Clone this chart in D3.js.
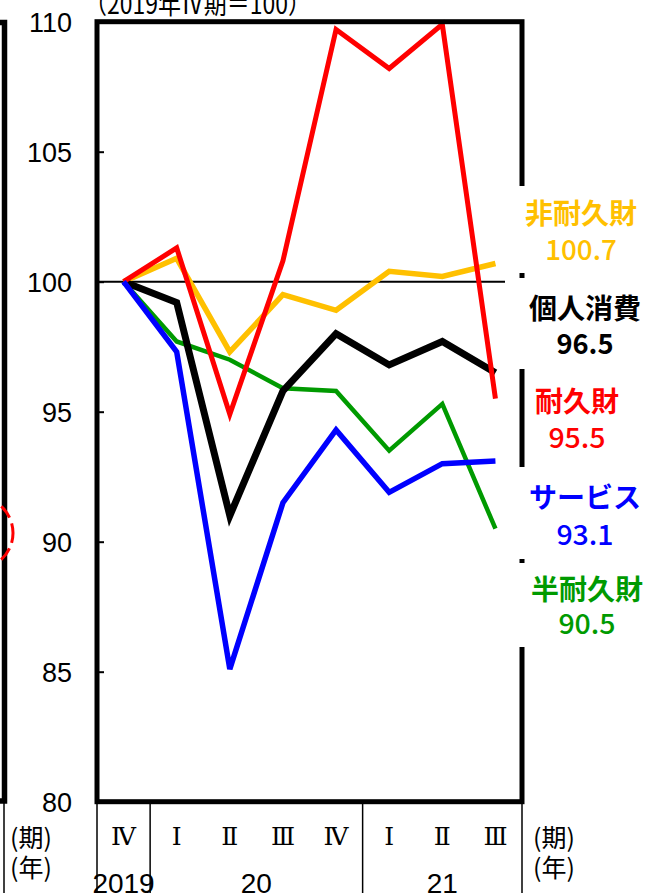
<!DOCTYPE html>
<html><head><meta charset="utf-8">
<script src="https://cdn.jsdelivr.net/npm/d3@7"></script>
<style>html,body{margin:0;padding:0;background:#fff;overflow:hidden}</style>
</head><body><svg id="c" width="646" height="893"></svg>
<script>
// ---- data ----
const periods = ["2019Q4","2020Q1","2020Q2","2020Q3","2020Q4","2021Q1","2021Q2","2021Q3"];
const quarterLabels = ["Ⅳ","Ⅰ","Ⅱ","Ⅲ","Ⅳ","Ⅰ","Ⅱ","Ⅲ"];
const yearLabels = ["2019","20","21"];
const yearStart = ["2019Q4","2020Q1","2021Q1"];
const yearEnd = ["2019Q4","2020Q4","2021Q3"];
const yTicks = [80,85,90,95,100,105,110];
const titleText = "（2019年Ⅳ期＝100）";

const consumption = [100, 99.2, 91.0, 95.8, 98.0, 96.8, 97.7, 96.5];
const durable     = [100, 101.3, 94.9, 100.8, 109.7, 108.2, 109.9, 95.5];
const nondurable  = [100, 100.9, 97.3, 99.5, 98.9, 100.4, 100.2, 100.7];
const services    = [100, 97.3, 85.1, 91.5, 94.3, 91.9, 93.0, 93.1];
const semidurable = [100, 97.7, 97.0, 95.9, 95.8, 93.5, 95.3, 90.5];

const seriesNames  = ["半耐久財","非耐久財","個人消費","耐久財","サービス"];
const seriesValues = [semidurable, nondurable, consumption, durable, services];
const seriesLast   = ["90.5","100.7","96.5","95.5","93.1"];

// ---- styles / layout ----
const colors = {"個人消費":"#000000","耐久財":"#FF0000","非耐久財":"#FFC000","サービス":"#0000FF","半耐久財":"#009A00"};
const widths = {"個人消費":7,"耐久財":5,"非耐久財":5.5,"サービス":5.5,"半耐久財":4.5};
const labelPos = { // x center, name y, value y
  "非耐久財":[581,212,248], "個人消費":[585,307,342], "耐久財":[577,400,436],
  "サービス":[585,496,533], "半耐久財":[587,588,622]
};
const boxes = [[510,186,136,87],[505,278,141,91],[510,467,136,92],[510,563,136,84]];

const svg = d3.select("#c");
svg.append("rect").attr("width",646).attr("height",893).attr("fill","#fff");

const X0=97, X1=522, Y0=21.7, Y1=801.7;
const x = d3.scaleBand().domain(periods).range([X0,X1]);
const cx = p => x(p) + x.bandwidth()/2;
const y = d3.scaleLinear().domain([80,110]).range([Y1,Y0]);

const numFont = "'Liberation Sans Narrow','Liberation Sans',Arial,sans-serif";
const jpFont = "'Noto Sans CJK JP','Noto Sans',sans-serif";

// left partial (previous panel)
svg.append("path").attr("d","M0,22.5H4.5V801H0").attr("fill","none").attr("stroke","#000").attr("stroke-width",5.5);
svg.append("line").attr("x1",4).attr("x2",4).attr("y1",803).attr("y2",893).attr("stroke","#000").attr("stroke-width",1.5);
svg.append("circle").attr("cx",-23).attr("cy",533).attr("r",36).attr("fill","none")
  .attr("stroke","#FF0000").attr("stroke-width",3).attr("stroke-dasharray","14,6").attr("stroke-dashoffset",4);

// 100 reference line
svg.append("line").attr("x1",X0).attr("x2",505).attr("y1",y(100)).attr("y2",y(100))
  .attr("stroke","#000").attr("stroke-width",2);

// inward ticks
const tickAxis = d3.axisRight(y).tickValues(yTicks).tickSize(7).tickFormat("");
const tg = svg.append("g").attr("transform",`translate(${X0},0)`).call(tickAxis);
tg.select(".domain").remove();
tg.selectAll("line").attr("stroke","#000").attr("stroke-width",2);

// y labels
const labAxis = d3.axisLeft(y).tickValues(yTicks).tickSize(0).tickPadding(0);
const lg = svg.append("g").attr("transform",`translate(72,0)`).call(labAxis);
lg.select(".domain").remove();
lg.selectAll("text").attr("font-family",numFont).attr("font-size",27).attr("fill","#000").attr("dy","0.36em");

// lines
const line = d3.line().x((d,i)=>cx(periods[i])).y(d=>y(d)).curve(d3.curveLinear);
seriesNames.forEach((n,k)=>{
  svg.append("path").datum(seriesValues[k]).attr("d",line).attr("fill","none")
    .attr("stroke",colors[n]).attr("stroke-width",widths[n]).attr("stroke-linejoin","miter").attr("stroke-miterlimit",4);
});

// frame
svg.append("rect").attr("x",X0).attr("y",Y0).attr("width",X1-X0).attr("height",Y1-Y0)
  .attr("fill","none").attr("stroke","#000").attr("stroke-width",5);

// label boxes
boxes.forEach(b=>svg.append("rect").attr("x",b[0]).attr("y",b[1]).attr("width",b[2]).attr("height",b[3]).attr("fill","#fff"));

// labels
seriesNames.forEach((n,k)=>{
  const p = labelPos[n];
  svg.append("text").attr("x",p[0]).attr("y",p[1]).attr("text-anchor","middle").attr("dominant-baseline","central")
    .attr("font-family",jpFont).attr("font-weight",700).attr("font-size",28).attr("fill",colors[n]).text(n);
  const t = seriesLast[k];
  svg.append("text").attr("x",p[0]).attr("y",p[2]).attr("text-anchor","middle").attr("dominant-baseline","central")
    .attr("font-family",jpFont).attr("font-weight",n==="個人消費"?700:500).attr("font-size",28).attr("fill",colors[n])
    .attr("textLength",t.length*14.3).attr("lengthAdjust","spacingAndGlyphs").text(t);
});

// bottom table
const divs = [x(periods[0]), x(periods[1]), x(periods[5]), X1];
divs.forEach(d=>svg.append("line").attr("x1",d).attr("x2",d).attr("y1",Y1).attr("y2",893).attr("stroke","#000").attr("stroke-width",1.5));
const qAxis = d3.axisBottom(x).tickSize(0).tickPadding(0).tickFormat((d,i)=>quarterLabels[i]);
const qg = svg.append("g").attr("transform",`translate(0,836)`).call(qAxis);
qg.select(".domain").remove();
qg.selectAll("text").attr("dy","0.35em").attr("font-family","'DejaVu Serif','Liberation Serif',serif")
  .attr("font-size",25).attr("fill","#000");
yearLabels.forEach((yl,i)=>{
  const xc = (x(yearStart[i]) + x(yearEnd[i]) + x.bandwidth())/2;
  svg.append("text").attr("x",xc).attr("y",883).attr("text-anchor","middle").attr("dominant-baseline","central")
    .attr("font-family",numFont).attr("font-size",28).attr("fill","#000").text(yl);
});
[10,533].forEach(xx=>{
  svg.append("text").attr("x",xx).attr("y",836).attr("dominant-baseline","central").attr("font-family",jpFont).attr("font-size",25).text("(期)");
  svg.append("text").attr("x",xx).attr("y",866).attr("dominant-baseline","central").attr("font-family",jpFont).attr("font-size",25).text("(年)");
});

// title (cut off at top)
svg.append("text").attr("x",84).attr("y",14).attr("font-family",jpFont).attr("font-size",28)
  .attr("textLength",227).attr("lengthAdjust","spacingAndGlyphs").text(titleText);
</script></body></html>
